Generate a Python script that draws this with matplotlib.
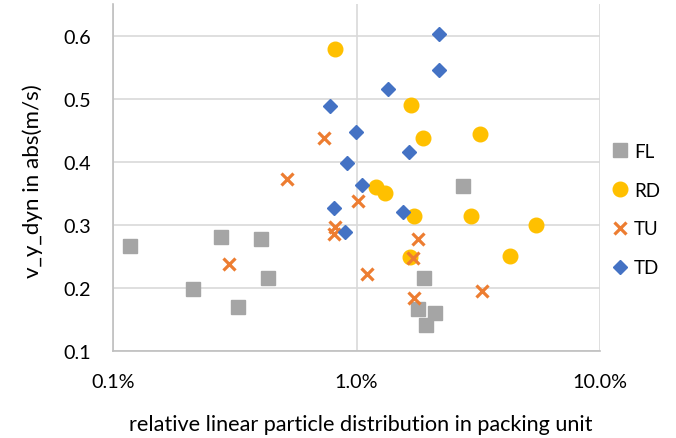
import matplotlib
matplotlib.use("Agg")
import matplotlib.pyplot as plt
from matplotlib.ticker import FixedLocator, FuncFormatter, NullLocator

plt.rcParams['font.family'] = ['Lato', 'DejaVu Sans']

# relative linear particle distribution (fraction) and v_y_dyn (m/s)
fl_x = [0.00117, 0.00214, 0.00278, 0.00404, 0.00432, 0.00325, 0.02735, 0.01886, 0.01792, 0.02093, 0.01927]
fl_y = [0.267, 0.199, 0.281, 0.277, 0.216, 0.170, 0.361, 0.216, 0.167, 0.161, 0.142]

rd_x = [0.00815, 0.01677, 0.01868, 0.0322, 0.01198, 0.01312, 0.01715, 0.02957, 0.05467, 0.04276, 0.01652]
rd_y = [0.579, 0.490, 0.438, 0.444, 0.360, 0.350, 0.3145, 0.3136, 0.299, 0.251, 0.249]

tu_x = [0.00737, 0.00518, 0.00815, 0.00808, 0.002985, 0.01016, 0.01792, 0.01699, 0.01106, 0.01726, 0.03272]
tu_y = [0.438, 0.3725, 0.296, 0.286, 0.238, 0.337, 0.278, 0.247, 0.222, 0.184, 0.1945]

td_x = [0.02173, 0.02185, 0.0135, 0.00778, 0.00994, 0.01636, 0.00913, 0.01052, 0.00812, 0.01555, 0.00898]
td_y = [0.603, 0.545, 0.516, 0.489, 0.447, 0.416, 0.398, 0.3626, 0.327, 0.320, 0.289]

series_names = ["FL", "RD", "TU", "TD"]
x_ticks = [0.001, 0.01, 0.1]
x_tick_labels = ["0.1%", "1.0%", "10.0%"]
y_ticks = [0.1, 0.2, 0.3, 0.4, 0.5, 0.6]

W, H = 676, 439
fig = plt.figure(figsize=(W / 100, H / 100), dpi=100)
ax = fig.add_axes([113 / W, 1 - 352 / H, (600 - 113) / W, (352 - 5) / H])

ax.plot(fl_x, fl_y, linestyle='none', marker='s', markersize=10, color='#a5a5a5', label=series_names[0], zorder=3)
ax.plot(rd_x, rd_y, linestyle='none', marker='o', markersize=10.5, color='#ffc000', label=series_names[1], zorder=3)
ax.plot(tu_x, tu_y, linestyle='none', marker='x', markersize=9, markeredgewidth=2.3, color='#ed7d31', label=series_names[2], zorder=3)
ax.plot(td_x, td_y, linestyle='none', marker='D', markersize=7.5, color='#4472c4', label=series_names[3], zorder=3)

ax.set_xscale('log')
ax.set_xlim(0.001, 0.1)
ax.set_ylim(0.1, 0.65)
ax.xaxis.set_major_locator(FixedLocator(x_ticks))
ax.xaxis.set_minor_locator(NullLocator())
ax.xaxis.set_major_formatter(FuncFormatter(lambda v, p: x_tick_labels[x_ticks.index(min(x_ticks, key=lambda t: abs(t - v)))]))
ax.yaxis.set_major_locator(FixedLocator(y_ticks))
ax.yaxis.set_major_formatter(FuncFormatter(lambda v, p: f"{v:.1f}"))

ax.grid(True, color='#d9d9d9', linewidth=1.2, zorder=0)
ax.set_axisbelow(True)
for s in ['top', 'right']:
    ax.spines[s].set_visible(False)
for s in ['left', 'bottom']:
    ax.spines[s].set_color('#bfbfbf')
    ax.spines[s].set_linewidth(1.2)

fs = 14.5
ax.tick_params(length=0, labelsize=fs, colors='#000000')
ax.tick_params(axis='y', pad=16)
ax.tick_params(axis='x', pad=15.5)

xl = ax.set_xlabel("relative linear particle distribution in packing unit", fontsize=fs, va='center')
yl = ax.set_ylabel("v_y_dyn in abs(m/s)", fontsize=fs, va='center')
ax.xaxis.set_label_coords((361 - 113) / 487, (352 - 425) / 347)
ax.yaxis.set_label_coords((33 - 113) / 487, (352 - 181) / 347)

# fit text sizes to the reference's measured text extents
fig.canvas.draw()
r = fig.canvas.get_renderer()
xw = xl.get_window_extent(r).width
xl.set_fontsize(fs * 463 / xw)
yh = yl.get_window_extent(r).height
yl.set_fontsize(fs * 192 / yh)
lab10 = [t for t in ax.get_xticklabels() if t.get_text() == "10.0%"][0]
tick_fs = fs * 55 / lab10.get_window_extent(r).width
ax.tick_params(labelsize=tick_fs)

leg_fs = 13.5
leg = ax.legend(loc='center left', bbox_to_anchor=(1.0, (352 - 210.5) / 347), frameon=False, fontsize=leg_fs,
                handlelength=0.9, handletextpad=0.3, labelspacing=1.16, borderaxespad=0.2)

fig.savefig("out.png", dpi=100)
